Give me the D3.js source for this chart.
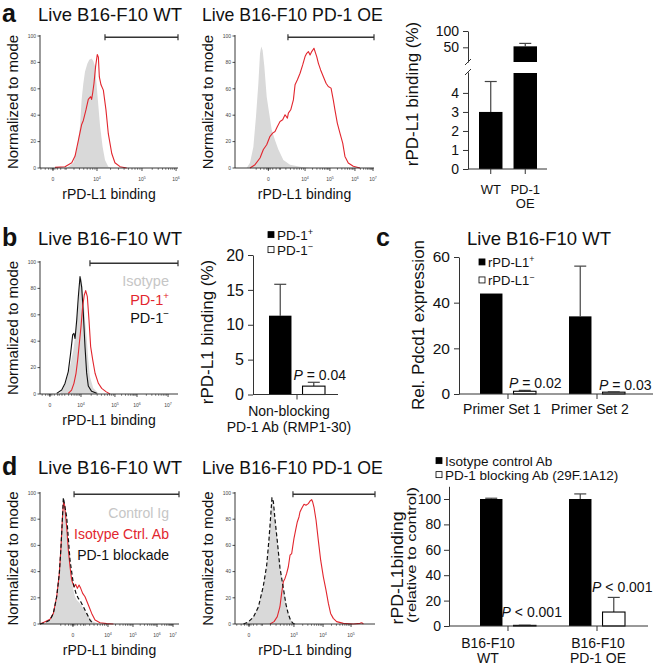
<!DOCTYPE html>
<html><head><meta charset="utf-8">
<script src="https://cdn.jsdelivr.net/npm/d3@7"></script>
<style>body{margin:0;background:#fff}svg{display:block}</style>
</head><body><script>
// ---------------- DATA ----------------
// Flow histograms: x = position along display axis (% of axis), y = % of mode
const a1Isotype = [[19.3,0],[20.5,1],[24.2,4],[27.1,16],[29.0,32],[30.2,52],[31.4,64],[32.6,73],[34.3,79],[35.7,82],[37.4,83],[38.6,81],[39.9,77],[41.1,62],[42.3,47],[43.5,32],[45.4,16],[47.1,6],[49.5,1],[52.0,0]];
const a1Binding = [[10.9,0.5],[18.1,1],[23.0,4],[25.4,9],[27.8,21],[30.2,33],[31.4,36],[33.3,44],[35.0,52],[36.7,54],[37.4,52],[38.2,57],[39.1,64],[40.3,77],[41.5,86],[42.3,84],[43.0,69],[44.2,63],[45.9,59],[47.8,44],[49.5,26],[52.0,11],[54.3,4],[58.0,1],[62.8,0]];
const a2Isotype = [[8.4,0],[10.8,4],[13.2,16],[15.1,39],[16.8,64],[18.0,87],[18.9,92],[19.9,89],[21.1,77],[22.8,54],[24.5,42],[26.4,29],[28.8,21],[31.2,14],[34.8,6],[39.6,2.5],[46.8,1],[54.0,0]];
const a2Binding = [[10.8,0],[14.4,2.5],[18.0,7.6],[20.4,14],[22.8,17.6],[25.2,24],[27.1,26.4],[28.8,27.7],[30.5,31.5],[32.4,35.3],[34.3,36.5],[36.0,40.3],[37.7,37.8],[38.4,41.6],[40.1,44.1],[42.0,51.6],[43.2,63],[44.9,66.8],[46.8,71.8],[48.7,78.1],[50.4,84.4],[51.6,86.9],[52.8,88.2],[54.0,85.6],[55.2,88.2],[56.8,90.7],[58.8,84.4],[60.0,79.3],[61.6,74.3],[63.5,69.3],[65.5,64.2],[67.1,61.7],[69.1,60.5],[70.7,51.6],[71.9,44.1],[73.6,34],[75.5,26.4],[77.5,18.9],[79.1,8.8],[81.5,3.8],[85.1,1.3],[89.9,0]];
const bIsotype = [[14.5,0.5],[16.9,4.3],[19.3,10.6],[21.7,20.7],[24.2,33.3],[26.1,48.5],[27.8,68.7],[29.0,86.4],[30.2,87.6],[31.4,73.7],[32.6,56.1],[33.8,43.4],[35.0,25.8],[36.2,13.1],[38.6,4.3],[42.3,0.5]];
const bPD1neg = [[12.1,0.5],[15.7,3],[18.1,8],[20.5,17],[22.2,31],[23.7,45],[24.6,46],[25.4,42],[26.6,56],[27.8,74],[29.0,89],[30.2,81],[31.4,61],[32.6,36],[33.8,16],[35.0,6],[37.4,2],[41.1,0.5]];
const bPD1pos = [[20.5,0.5],[22.9,3],[24.6,8.1],[26.1,15.7],[27.3,25.8],[28.5,38.4],[29.7,51],[30.9,66.2],[32.1,75],[33.1,78.3],[34.3,73.7],[35.5,56.1],[36.7,35.9],[38.2,25.8],[39.9,15.7],[42.3,8.1],[44.7,4.3],[47.8,1.8],[50.7,0]];
const d1ControlIg = [[0,0],[3.6,1],[7.2,3],[9.6,8.1],[12.0,20.8],[13.9,38.6],[15.1,58.9],[16.1,79.2],[16.8,93.1],[17.3,95.7],[18.0,91.9],[19.2,79.2],[20.4,64],[21.6,46.2],[22.8,33.5],[24.0,25.9],[25.2,20.8],[26.4,18.3],[28.8,15.7],[31.2,11.9],[33.6,8.1],[36.0,4.3],[38.4,1.8],[43.2,0]];
const d1Blockade = [[0,0],[3.6,1],[7.2,3],[9.6,8.1],[12.0,20.8],[13.9,38.6],[15.1,58.9],[16.1,80],[16.8,96.4],[19.2,81.7],[21.6,48.7],[24.0,30.7],[25.9,23.4],[27.6,19.5],[29.3,17],[31.2,13.2],[33.6,8.1],[36.0,3],[38.4,0]];
const d1IsotypeAb = [[0,0],[3.6,1.8],[7.2,3.6],[9.6,8.1],[12.0,20.8],[13.9,38.6],[15.1,58.9],[16.3,84.3],[17.0,93.1],[17.7,90.6],[19.2,74.1],[20.4,56.3],[21.6,43.7],[22.8,33.5],[24.5,28.4],[25.7,30.2],[26.9,27.2],[28.1,29.7],[29.3,27.2],[30.7,23.4],[32.4,20.8],[34.8,14.5],[37.2,8.1],[39.6,3],[43.2,1],[48.0,0.3],[52.8,0]];
const d2ControlIg = [[6.0,0],[9.5,1.8],[13.1,5.6],[16.7,13.2],[20.2,28.4],[22.6,43.7],[24.3,64],[25.5,81.7],[26.4,95.7],[27.4,93.1],[28.6,79.2],[30.2,64],[32.1,43.7],[34.5,28.4],[36.4,15.7],[38.1,8.1],[39.8,3],[41.7,0.5],[44.0,0]];
const d2Blockade = [[6.0,0],[9.5,1.5],[13.1,5.2],[16.7,13],[20.2,28.8],[22.6,44.5],[24.3,65],[25.5,82.5],[26.4,96.4],[27.4,93.5],[28.6,79.5],[30.2,63.5],[32.1,43],[34.5,27.5],[36.4,15],[38.1,7.5],[39.8,2.5],[41.7,0.3],[44.0,0]];
const d2IsotypeAb = [[25.0,0],[27.9,1.8],[30.2,5.6],[32.1,13.2],[33.3,23.4],[34.5,32.2],[35.7,34.8],[36.9,38.6],[38.1,43.7],[39.3,52.5],[40.5,53.8],[41.2,58.9],[42.1,65.2],[43.3,71.6],[44.5,77.9],[45.7,81.7],[46.4,85.5],[47.6,88.1],[49.3,91.4],[50.7,90.6],[52.4,91.9],[53.6,93.9],[54.8,94.9],[55.5,93.1],[56.4,89.3],[57.9,79.2],[59.5,64],[61.2,48.7],[63.1,36],[65.0,25.9],[66.7,15.7],[68.3,8.1],[70.2,4.3],[72.6,1.8],[77.4,0.5],[84.5,0],[89.3,0.5],[90.5,1],[91.7,0]];

// Flow axis tick labels (position along axis %, base, exponent)
const flowYTicks = [0,20,40,60,80,100];
const a1XTicks = [[9.4,'0',''],[41.3,'10','4'],[73.9,'10','5'],[98.6,'10','6']];
const a2XTicks = [[24.0,'0',''],[50.4,'10','4'],[68.3,'10','5'],[86.3,'10','6'],[99.3,'10','7']];
const bXTicks  = [[7.2,'0',''],[29.7,'10','4'],[54.3,'10','5'],[70.3,'10','6'],[92.8,'10','7']];
const d1XTicks = [[23.7,'0',''],[48.9,'10','4'],[66.9,'10','5'],[84.2,'10','6'],[95.7,'10','7']];
const d2XTicks = [[10.0,'0',''],[42.1,'10','3'],[62.9,'10','4'],[82.9,'10','5']];
// positive gate (start, end along axis %)
const a1Gate = [47.1,100], a2Gate = [38.1,100], bGate = [36.2,100], d1Gate = [24.5,100], d2Gate = [41.4,100];

// Bar charts
const aCats = ['WT','PD-1 OE'];
const aValues = [3.0, 53];
const aErrors = [4.6, 62];
const aLowerTicks = [0,1,2,3,4];
const aUpperTicks = [50,100];

const bGroups = ['Non-blocking PD-1 Ab (RMP1-30)'];
const bGroupLines = [['Non-blocking','PD-1 Ab (RMP1-30)']];
const bSeries = ['PD-1+','PD-1−'];
const bValues = [[11.3,1.2]];
const bErrors = [[15.8,1.75]];
const bTicks = [0,5,10,15,20];
const bPValues = ['= 0.04'];

const cGroups = ['Primer Set 1','Primer Set 2'];
const cSeries = ['rPD-L1+','rPD-L1−'];
const cValues = [[44,1.2],[34,0.8]];
const cErrors = [[44,1.6],[56,0.9]];
const cTicks = [0,20,40,60];
const cPValues = ['= 0.02','= 0.03'];

const dGroups = ['B16-F10 WT','B16-F10 PD-1 OE'];
const dGroupLines = [['B16-F10','WT'],['B16-F10','PD-1 OE']];
const dSeries = ['Isotype control Ab','PD-1 blocking Ab (29F.1A12)'];
const dValues = [[100,0.5],[100,11]];
const dErrors = [[100.6,0.6],[104,22.5]];
const dTicks = [0,20,40,60,80,100];
const dPValues = ['< 0.001','< 0.001'];

// ---------------- DRAWING ----------------
const FONT = "'Liberation Sans', Arial, Helvetica, sans-serif";
const RED = '#e2262e', FILL = '#d9d9d9', LEGGRAY = '#c6c6c6', AXC = '#333';
const svg = d3.select('body').append('svg').attr('width',660).attr('height',669)
  .style('font-family',FONT);

function label(x, y, str, size, o={}) {
  const t = svg.append('text').attr('x',x).attr('y',y).attr('font-size',size)
    .attr('fill',o.fill||'#111').attr('text-anchor',o.anchor||'start');
  if (o.weight) t.attr('font-weight',o.weight);
  if (o.rotate) t.attr('transform',`rotate(-90,${x},${y})`);
  if (o.len) t.attr('textLength',o.len).attr('lengthAdjust','spacingAndGlyphs');
  if (o.sup) {
    t.append('tspan').text(str);
    t.append('tspan').attr('dy',-size*0.38).attr('font-size',size*0.68).text(o.sup);
  } else t.text(str);
  return t;
}

function flowPlot(c) {
  const g = svg.append('g');
  const x = d3.scaleLinear().domain([0,100]).range([c.L,c.R]);
  const y = d3.scaleLinear().domain([0,100]).range([c.B,c.T]);
  c.series.forEach(s => {
    if (s.fill) {
      g.append('path').attr('d', d3.area().x(d=>x(d[0])).y0(y(0)).y1(d=>y(d[1]))(s.data)).attr('fill',FILL);
    } else {
      g.append('path').attr('d', d3.line().x(d=>x(d[0])).y(d=>y(d[1]))(s.data))
        .attr('fill','none').attr('stroke',s.color).attr('stroke-width',s.w||1.1)
        .attr('stroke-dasharray',s.dash||null).attr('stroke-linejoin','round');
    }
  });
  const ax = '#222';
  g.append('line').attr('x1',x(0)).attr('x2',x(0)).attr('y1',y(100)-1).attr('y2',y(0)).attr('stroke',ax).attr('stroke-width',0.9);
  g.append('line').attr('x1',x(0)).attr('x2',x(100)).attr('y1',y(0)).attr('y2',y(0)).attr('stroke',ax).attr('stroke-width',0.9);
  flowYTicks.forEach(v => {
    g.append('line').attr('x1',x(0)-2.5).attr('x2',x(0)).attr('y1',y(v)).attr('y2',y(v)).attr('stroke',ax).attr('stroke-width',0.8);
    g.append('text').attr('x',x(0)-4).attr('y',y(v)+1.8).attr('font-size',5).attr('text-anchor','end').attr('fill','#444').text(v);
  });
  const tk = c.ticks;
  tk.forEach(t => {
    g.append('line').attr('x1',x(t[0])).attr('x2',x(t[0])).attr('y1',y(0)).attr('y2',y(0)+3).attr('stroke',ax).attr('stroke-width',0.8);
    const tt = g.append('text').attr('x',x(t[0])).attr('y',y(0)+13).attr('font-size',5).attr('text-anchor','middle').attr('fill','#444');
    tt.append('tspan').text(t[1]);
    if (t[2]) tt.append('tspan').attr('dy',-2).attr('font-size',3.6).text(t[2]);
  });
  for (let i=0;i<tk.length-1;i++) {
    const a=tk[i][0], b=tk[i+1][0];
    for (let k=2;k<=9;k++) {
      const p = a + (b-a)*Math.log10(k);
      g.append('line').attr('x1',x(p)).attr('x2',x(p)).attr('y1',y(0)).attr('y2',y(0)+1.8).attr('stroke',ax).attr('stroke-width',0.6);
    }
  }
  const z = tk[0][0];
  for (let k=-5;k<=5;k++) {
    if (k===0) continue;
    const p = z + k*Math.abs(k)*0.35;
    if (p<0) continue;
    g.append('line').attr('x1',x(p)).attr('x2',x(p)).attr('y1',y(0)).attr('y2',y(0)+1.8).attr('stroke',ax).attr('stroke-width',0.6);
  }
  const by = y(99);
  g.append('line').attr('x1',x(c.gate[0])).attr('x2',x(c.gate[1])).attr('y1',by).attr('y2',by).attr('stroke','#333').attr('stroke-width',1.4);
  c.gate.forEach(p => g.append('line').attr('x1',x(p)).attr('x2',x(p)).attr('y1',by-3).attr('y2',by+3).attr('stroke','#333').attr('stroke-width',1.2));
  label(c.titleX, c.titleY, c.title, c.titleSize||18.5);
  label(c.L-22, (c.T+c.B)/2, 'Normalized to mode', 15, {anchor:'middle', rotate:true});
  label((c.L+c.R)/2, c.B+31, 'rPD-L1 binding', 14, {anchor:'middle'});
  (c.legend||[]).forEach(l => label(c.legX, l.y, l.text, c.legSize, {anchor:'end', fill:l.color, sup:l.sup}));
}

// Panel letters
label(2, 22, 'a', 25, {weight:'bold'});
label(2, 246, 'b', 25, {weight:'bold'});
label(376, 246, 'c', 25, {weight:'bold'});
label(2, 475, 'd', 25, {weight:'bold'});

flowPlot({L:40,R:178,T:36,B:168, ticks:a1XTicks, gate:a1Gate, title:'Live B16-F10 WT', titleX:38, titleY:21,
  series:[{fill:true,data:a1Isotype},{color:RED,data:a1Binding}]});
flowPlot({L:235,R:374,T:36,B:168, ticks:a2XTicks, gate:a2Gate, title:'Live B16-F10 PD-1 OE', titleX:202, titleY:21, titleSize:17.7,
  series:[{fill:true,data:a2Isotype},{color:RED,data:a2Binding}]});
flowPlot({L:40,R:178,T:262,B:394, ticks:bXTicks, gate:bGate, title:'Live B16-F10 WT', titleX:38, titleY:245,
  series:[{fill:true,data:bIsotype},{color:'#111',data:bPD1neg},{color:RED,data:bPD1pos}],
  legX:169, legSize:14.5, legend:[{text:'Isotype',color:LEGGRAY,y:286},{text:'PD-1',sup:'+',color:RED,y:305},{text:'PD-1',sup:'−',color:'#111',y:323}]});
flowPlot({L:40,R:179,T:493,B:624, ticks:d1XTicks, gate:d1Gate, title:'Live B16-F10 WT', titleX:38, titleY:474,
  series:[{fill:true,data:d1ControlIg},{color:RED,data:d1IsotypeAb},{color:'#111',data:d1Blockade,dash:'4,2.5',w:1.2}],
  legX:169, legSize:14, legend:[{text:'Control Ig',color:LEGGRAY,y:518},{text:'Isotype Ctrl. Ab',color:RED,y:539},{text:'PD-1 blockade',color:'#111',y:560}]});
flowPlot({L:235,R:375,T:493,B:624, ticks:d2XTicks, gate:d2Gate, title:'Live B16-F10 PD-1 OE', titleX:202, titleY:474, titleSize:17.7,
  series:[{fill:true,data:d2ControlIg},{color:RED,data:d2IsotypeAb},{color:'#111',data:d2Blockade,dash:'4,2.5',w:1.2}]});

function styleAxis(sel, size) {
  sel.attr('font-family',FONT).attr('font-size',size);
  sel.selectAll('path.domain').attr('stroke',AXC).attr('stroke-width',1);
  sel.selectAll('.tick line').attr('stroke',AXC).attr('stroke-width',1);
  sel.selectAll('.tick text').attr('fill','#111');
}
function errBar(g, cx, y1, y2) {
  g.append('line').attr('x1',cx).attr('x2',cx).attr('y1',y1).attr('y2',y2).attr('stroke','#444').attr('stroke-width',1.2);
  g.append('line').attr('x1',cx-6).attr('x2',cx+6).attr('y1',y2).attr('y2',y2).attr('stroke','#444').attr('stroke-width',1.2);
}
function pLabel(x, y, rest, size) {
  const t = svg.append('text').attr('x',x).attr('y',y).attr('font-size',size).attr('text-anchor','middle').attr('fill','#111');
  t.append('tspan').attr('font-style','italic').text('P');
  t.append('tspan').text(' ' + rest);
}
function legendRow(x, y, filled, text, sup, size) {
  svg.append('rect').attr('x',x).attr('y',y-size*0.62).attr('width',6).attr('height',6)
    .attr('fill',filled?'#000':'#fff').attr('stroke','#000').attr('stroke-width',0.8);
  label(x+9, y, text, size, {sup:sup});
}
const intFmt = d3.format('d');

// ---- Panel a bar chart (broken y axis) ----
(function(){
  const g = svg.append('g');
  const yLow = d3.scaleLinear().domain([0,5.1]).range([169,72]);
  const yUp = d3.scaleLinear().domain([5,100]).range([62,31]);
  const x = d3.scaleBand().domain(aCats).range([479,537]).paddingInner(0.32);
  aCats.forEach((c,i) => {
    const v = aValues[i], e = aErrors[i], bx = x(c), bw = x.bandwidth(), cx = bx+bw/2;
    const ys = val => val > 5.1 ? yUp(val) : yLow(val);
    errBar(g, cx, ys(v), ys(e));
    if (v <= 5.1) {
      g.append('rect').attr('x',bx).attr('y',yLow(v)).attr('width',bw).attr('height',yLow(0)-yLow(v)).attr('fill','#000');
    } else {
      g.append('rect').attr('x',bx).attr('y',yLow(5.1)+1).attr('width',bw).attr('height',yLow(0)-yLow(5.1)-1).attr('fill','#000');
      g.append('rect').attr('x',bx).attr('y',yUp(v)).attr('width',bw).attr('height',yUp(5)-yUp(v)).attr('fill','#000');
    }
  });
  const la = g.append('g').attr('transform','translate(468,0)').call(d3.axisLeft(yLow).tickValues(aLowerTicks).tickFormat(intFmt).tickSize(5).tickSizeOuter(0).tickPadding(4));
  styleAxis(la, 14);
  const ua = g.append('g').attr('transform','translate(468,0)').call(d3.axisLeft(yUp).tickValues(aUpperTicks).tickFormat(intFmt).tickSize(5).tickSizeOuter(0).tickPadding(4));
  styleAxis(ua, 14);
  [yUp(5), yLow(5.1)].forEach(yy => g.append('line').attr('x1',465).attr('x2',471).attr('y1',yy+3).attr('y2',yy-3).attr('stroke',AXC).attr('stroke-width',1));
  g.append('line').attr('x1',468).attr('x2',547).attr('y1',yLow(0)).attr('y2',yLow(0)).attr('stroke',AXC);
  aCats.forEach(c => {
    const cx = x(c)+x.bandwidth()/2;
    g.append('line').attr('x1',cx).attr('x2',cx).attr('y1',yLow(0)).attr('y2',yLow(0)+5).attr('stroke',AXC);
  });
  label(x('WT')+x.bandwidth()/2, 194, 'WT', 13, {anchor:'middle'});
  label(x('PD-1 OE')+x.bandwidth()/2, 194, 'PD-1', 13, {anchor:'middle'});
  label(x('PD-1 OE')+x.bandwidth()/2, 208, 'OE', 13, {anchor:'middle'});
  label(418, 94, 'rPD-L1 binding (%)', 17, {anchor:'middle', rotate:true});
})();

// ---- generic grouped bar chart ----
function groupedBars(c) {
  const g = svg.append('g');
  const y = d3.scaleLinear().domain(c.yDomain).range(c.yRange);
  const x0 = d3.scaleBand().domain(c.groups).range(c.groupRange).paddingInner(c.gp);
  const x1 = d3.scaleBand().domain(c.series).range([0,x0.bandwidth()]).paddingInner(0.33);
  c.values.forEach((vals,gi) => vals.forEach((v,si) => {
    const bx = x0(c.groups[gi]) + x1(c.series[si]), bw = x1.bandwidth(), cx = bx+bw/2;
    const e = c.errors[gi][si];
    if (e > v) errBar(g, cx, y(v), y(e));
    g.append('rect').attr('x',bx).attr('y',y(v)).attr('width',bw).attr('height',Math.max(0.01,y(0)-y(v)))
      .attr('fill',si===0?'#000':'#fff').attr('stroke','#000').attr('stroke-width',si===0?0:1.1);
    if (si===1) pLabel(cx + c.pDx[gi], y(e) + c.pDy[gi], c.pValues[gi], 14);
  }));
  const ya = g.append('g').attr('transform',`translate(${c.axisX[0]},0)`)
    .call(d3.axisLeft(y).tickValues(c.ticks).tickFormat(intFmt).tickSize(5).tickSizeOuter(0).tickPadding(c.tickPad||4));
  styleAxis(ya, c.tickSize);
  g.append('line').attr('x1',c.axisX[0]).attr('x2',c.axisX[1]).attr('y1',y(0)).attr('y2',y(0)).attr('stroke',AXC);
  c.groups.forEach((gr,gi) => {
    const cx = x0(gr)+x0.bandwidth()/2;
    g.append('line').attr('x1',cx).attr('x2',cx).attr('y1',y(0)).attr('y2',y(0)+5).attr('stroke',AXC);
    c.groupLines[gi].forEach((ln,li) => label(cx + c.labDx[gi], c.labY[li], ln, 14, {anchor:'middle'}));
  });
}

groupedBars({groups:bGroups, groupLines:bGroupLines, series:bSeries, values:bValues, errors:bErrors,
  ticks:bTicks, tickSize:16, yDomain:[0,20], yRange:[394.5,255], groupRange:[269,325], gp:0,
  axisX:[253,338], labDx:[-8], labY:[416,432], pValues:bPValues, pDx:[6], pDy:[-2]});
legendRow(268, 240, true, 'PD-1', '+', 13.5);
legendRow(268, 255, false, 'PD-1', '−', 13.5);
label(213, 332, 'rPD-L1 binding (%)', 17, {anchor:'middle', rotate:true});

groupedBars({groups:cGroups, groupLines:cGroups.map(d=>[d]), series:cSeries, values:cValues, errors:cErrors,
  ticks:cTicks, tickSize:15.5, yDomain:[0,60], yRange:[394,257], groupRange:[480,625], gp:0.371,
  axisX:[459,653], labDx:[-6,-7], labY:[414], pValues:cPValues, pDx:[10.5,11.5], pDy:[-2,-2]});
label(467, 245, 'Live B16-F10 WT', 18.5);
legendRow(479, 267, true, 'rPD-L1', '+', 13);
legendRow(479, 285, false, 'rPD-L1', '−', 13);
label(424, 325, 'Rel. Pdcd1 expression', 17, {anchor:'middle', rotate:true});

groupedBars({groups:dGroups, groupLines:dGroupLines, series:dSeries, values:dValues, errors:dErrors,
  ticks:dTicks, tickSize:14, tickPad:3, yDomain:[0,110], yRange:[626,486.3], groupRange:[480,625], gp:0.371,
  axisX:[449,648], labDx:[-20,1], labY:[648,663], pValues:dPValues, pDx:[7,8.5], pDy:[-8,-5]});
legendRow(436, 466, true, 'Isotype control Ab', null, 13.5);
legendRow(436, 480, false, 'PD-1 blocking Ab (29F.1A12)', null, 13.5);
label(403, 568, 'rPD-L1binding', 17, {anchor:'middle', rotate:true, len:113});
label(416, 555, '(relative to control)', 12.5, {anchor:'middle', rotate:true, len:136});
</script></body></html>
